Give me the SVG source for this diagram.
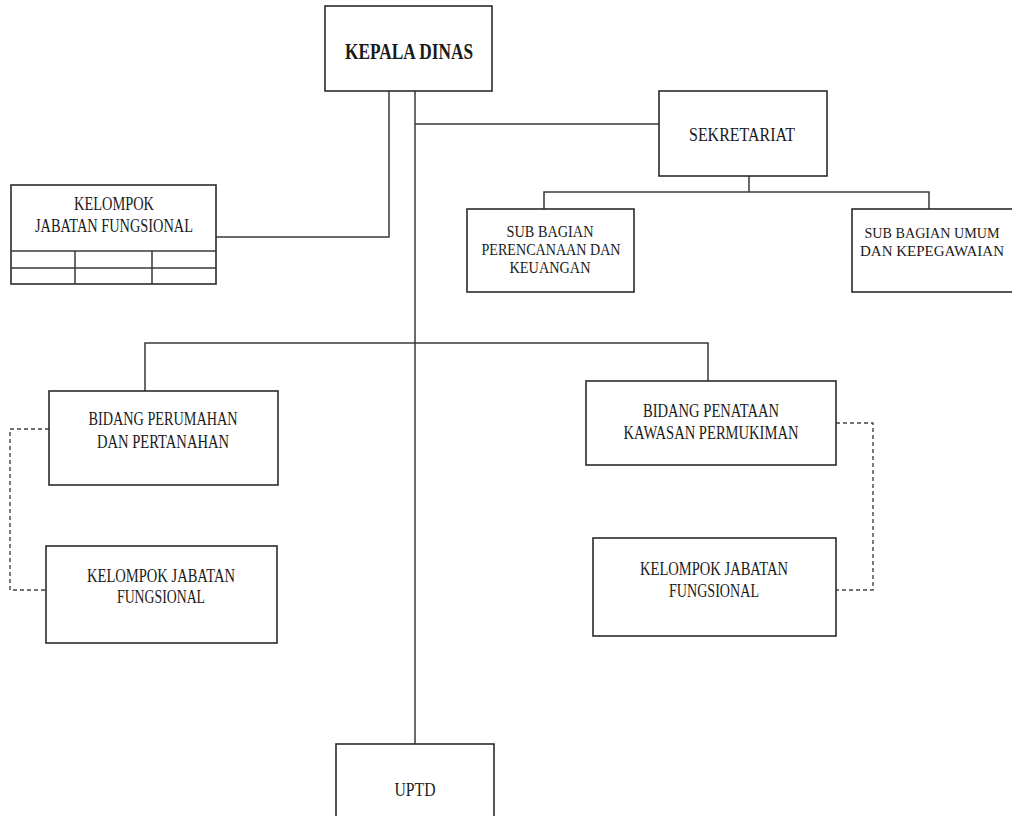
<svg xmlns="http://www.w3.org/2000/svg" width="1012" height="816" viewBox="0 0 1012 816">
<style>
.box{fill:#fff;stroke:#2b2b2b;stroke-width:1.6}
.ln{fill:none;stroke:#3a3a3a;stroke-width:1.5}
.dash{fill:none;stroke:#444;stroke-width:1.4;stroke-dasharray:4,3}
.t{font-family:"Liberation Serif","Times New Roman",serif;font-size:19px;fill:#1a1a1a;text-anchor:middle}
.s{font-size:16px}
.xs{font-size:15px}
.b{font-weight:bold;font-size:23px}
</style>
<rect width="1012" height="816" fill="#fff"/>
<g id="connectors">
<path class="ln" d="M389,91 V237 H216"/>
<path class="ln" d="M415,91 V744"/>
<path class="ln" d="M415,124 H659"/>
<path class="ln" d="M749,176 V192 M544,209 V192 H929 V209"/>
<path class="ln" d="M145,391 V343 H708 V381"/>
<path class="dash" d="M49,429 H10 V590 H46"/>
<path class="dash" d="M836,423 H873 V590 H836"/>
</g>
<g id="kepala">
<rect class="box" x="325" y="6" width="167" height="85"/>
<text class="t b" x="409" y="59" textLength="128" lengthAdjust="spacingAndGlyphs">KEPALA DINAS</text>
</g>
<g id="sekretariat">
<rect class="box" x="659" y="91" width="168" height="85"/>
<text class="t" x="742" y="141" textLength="106" lengthAdjust="spacingAndGlyphs">SEKRETARIAT</text>
</g>
<g id="kelompok-top">
<rect class="box" x="11" y="185" width="205" height="99"/>
<path class="ln" d="M11,251 H216 M11,268 H216 M75,251 V284 M152,251 V284"/>
<text class="t" x="114" y="210" textLength="80" lengthAdjust="spacingAndGlyphs">KELOMPOK</text>
<text class="t" x="114" y="232" textLength="158" lengthAdjust="spacingAndGlyphs">JABATAN FUNGSIONAL</text>
</g>
<g id="subbag-perencanaan">
<rect class="box" x="467" y="209" width="167" height="83"/>
<text class="t s" x="550" y="237" textLength="87" lengthAdjust="spacingAndGlyphs">SUB BAGIAN</text>
<text class="t s" x="551" y="255" textLength="139" lengthAdjust="spacingAndGlyphs">PERENCANAAN DAN</text>
<text class="t s" x="550" y="273" textLength="81" lengthAdjust="spacingAndGlyphs">KEUANGAN</text>
</g>
<g id="subbag-umum">
<rect class="box" x="852" y="209" width="170" height="83"/>
<text class="t xs" x="932" y="238" textLength="135" lengthAdjust="spacingAndGlyphs">SUB BAGIAN UMUM</text>
<text class="t xs" x="932" y="256" textLength="144" lengthAdjust="spacingAndGlyphs">DAN KEPEGAWAIAN</text>
</g>
<g id="bidang-perumahan">
<rect class="box" x="49" y="391" width="229" height="94"/>
<text class="t" x="163" y="425" textLength="149" lengthAdjust="spacingAndGlyphs">BIDANG PERUMAHAN</text>
<text class="t" x="163" y="448" textLength="132" lengthAdjust="spacingAndGlyphs">DAN PERTANAHAN</text>
</g>
<g id="kelompok-left">
<rect class="box" x="46" y="546" width="231" height="97"/>
<text class="t" x="161" y="582" textLength="148" lengthAdjust="spacingAndGlyphs">KELOMPOK JABATAN</text>
<text class="t" x="161" y="603" textLength="88" lengthAdjust="spacingAndGlyphs">FUNGSIONAL</text>
</g>
<g id="bidang-penataan">
<rect class="box" x="586" y="381" width="250" height="84"/>
<text class="t" x="711" y="417" textLength="136" lengthAdjust="spacingAndGlyphs">BIDANG PENATAAN</text>
<text class="t" x="711" y="439" textLength="175" lengthAdjust="spacingAndGlyphs">KAWASAN PERMUKIMAN</text>
</g>
<g id="kelompok-right">
<rect class="box" x="593" y="538" width="243" height="98"/>
<text class="t" x="714" y="575" textLength="148" lengthAdjust="spacingAndGlyphs">KELOMPOK JABATAN</text>
<text class="t" x="714" y="597" textLength="90" lengthAdjust="spacingAndGlyphs">FUNGSIONAL</text>
</g>
<g id="uptd">
<rect class="box" x="336" y="744" width="158" height="80"/>
<text class="t" x="415" y="796" textLength="41" lengthAdjust="spacingAndGlyphs">UPTD</text>
</g>
</svg>
